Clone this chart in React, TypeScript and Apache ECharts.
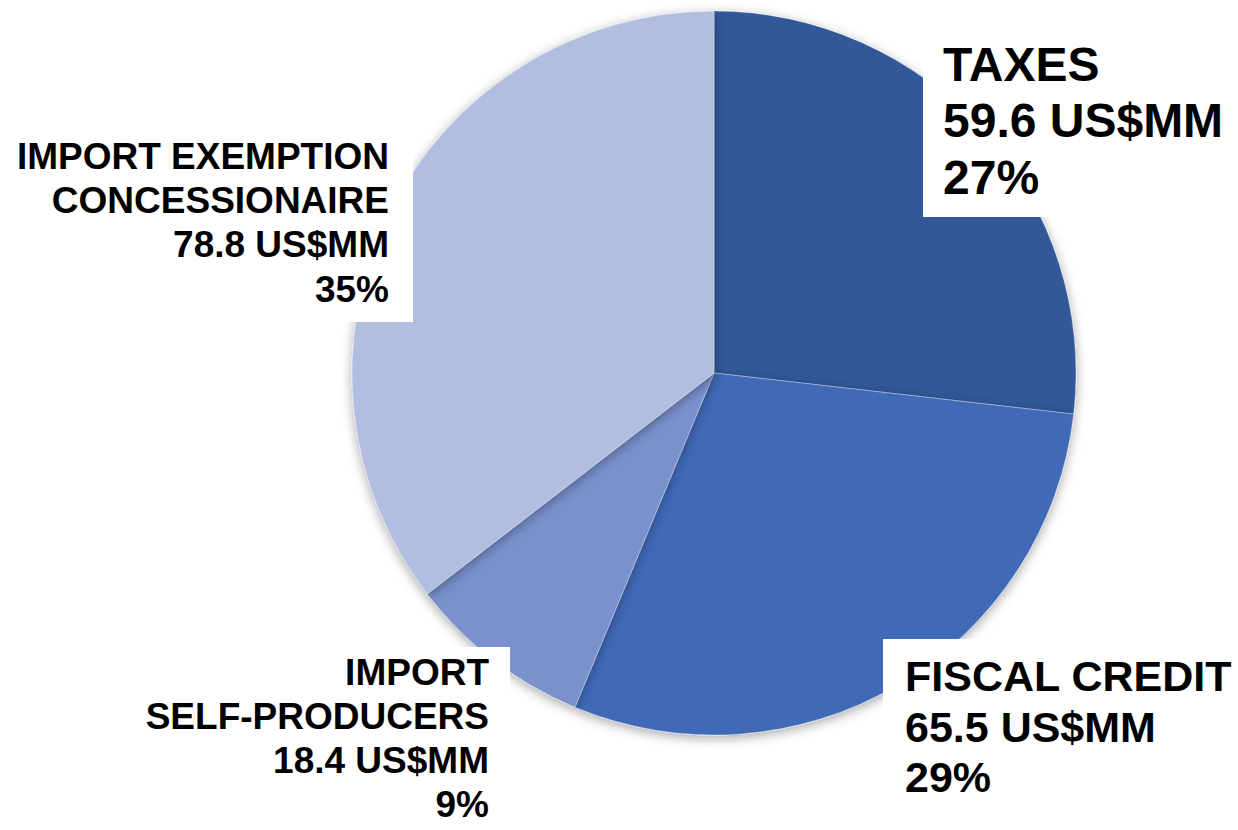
import React, { useEffect, useRef } from "react";
import * as echarts from "echarts";

const categories = ["TAXES", "FISCAL CREDIT", "IMPORT\nSELF-PRODUCERS", "IMPORT EXEMPTION\nCONCESSIONAIRE"];
const values = [59.6, 65.5, 18.4, 78.8];
const percents = ["27%", "29%", "9%", "35%"];
const colors = ["#33599A", "#406BB8", "#7A91CE", "#B2BEDF"];

const FONT = '"Liberation Sans", Arial, sans-serif';

function labelText(i: number) {
  return `${categories[i]}\n${values[i].toFixed(1)} US$MM\n${percents[i]}`;
}

export default function App() {
  const ref = useRef<HTMLDivElement>(null);
  useEffect(() => {
    if (!ref.current) return;
    const chart = echarts.init(ref.current, undefined, { renderer: "svg" });
    const boxes = [
      { x: 923, y: 20, w: 315, h: 197 },
      { x: 883, y: 639, w: 355, h: 191 },
      { x: 110, y: 647, w: 400, h: 183 },
      { x: 0, y: 110, w: 413, h: 212 },
    ];
    const texts = [
      { x: 943, y: 36, size: 48, lh: 56.5, align: "left" },
      { x: 905, y: 651, size: 43, lh: 50.5, align: "left" },
      { x: 489, y: 650, size: 37, lh: 44, align: "right" },
      { x: 389, y: 134, size: 37, lh: 44.3, align: "right" },
    ];
    const graphic: any[] = [];
    boxes.forEach((b) =>
      graphic.push({
        type: "rect",
        z: 100,
        shape: { x: b.x, y: b.y, width: b.w, height: b.h },
        style: { fill: "#ffffff" },
      })
    );
    texts.forEach((t, i) =>
      graphic.push({
        type: "text",
        z: 101,
        x: t.x,
        y: t.y,
        style: {
          text: labelText(i),
          font: `bold ${t.size}px ${FONT}`,
          fill: "#000000",
          align: t.align,
          verticalAlign: "top",
          lineHeight: t.lh,
        },
      })
    );
    chart.setOption({
      animation: false,
      backgroundColor: "#ffffff",
      series: [
        {
          type: "pie",
          center: [714, 373],
          radius: 362,
          startAngle: 90,
          clockwise: true,
          label: { show: false },
          labelLine: { show: false },
          emphasis: { disabled: true },
          itemStyle: {
            borderWidth: 0.6,
            borderColor: "rgba(255,255,255,0.5)",
            shadowBlur: 12,
            shadowColor: "rgba(0,0,0,0.35)",
            shadowOffsetY: 3,
          },
          data: values.map((v, i) => ({
            name: categories[i],
            value: v,
            itemStyle: { color: colors[i] },
          })),
        },
      ],
      graphic,
    });
    return () => chart.dispose();
  }, []);
  return (
    <div
      ref={ref}
      style={{ position: "absolute", left: 0, top: 0, width: 1238, height: 830 }}
    />
  );
}
